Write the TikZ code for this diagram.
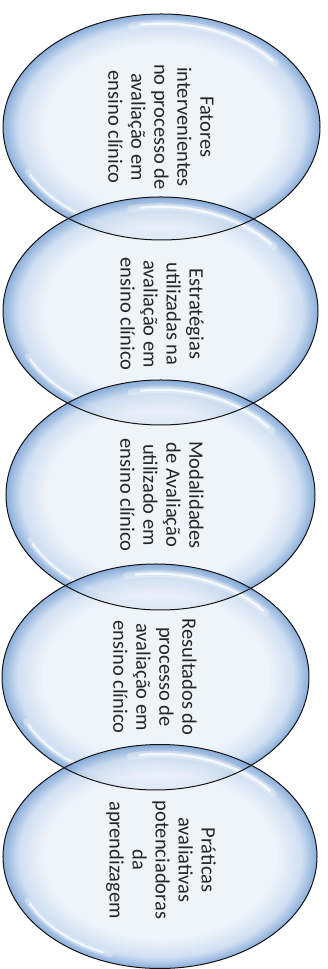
\documentclass[tikz,border=0pt]{standalone}
\usepackage{fontspec}
\setmainfont{Carlito}
\usetikzlibrary{shapes.geometric}
\definecolor{bcenter}{RGB}{236,241,249}
\definecolor{bmid}{RGB}{200,218,240}
\definecolor{bedge}{RGB}{118,160,211}
\definecolor{txt}{RGB}{38,38,38}
\pgfdeclareradialshading{bubble}{\pgfpoint{0bp}{0bp}}{color(0bp)=(bcenter); color(18.5bp)=(bcenter); color(22.5bp)=(bmid); color(25bp)=(bedge); color(50bp)=(bedge)}
\newcommand\glossy[4]{%
  \begin{scope}[shift={(#1,#2)}]
    \draw[gloss, line width=7pt, opacity=0.3] (38:{0.915*#3} and {0.915*#4}) arc[start angle=38, end angle=102, x radius={0.915*#3}, y radius={0.915*#4}];
    \draw[gloss, line width=2.5pt, opacity=0.75] (40:{0.915*#3} and {0.915*#4}) arc[start angle=40, end angle=98, x radius={0.915*#3}, y radius={0.915*#4}];
    \draw[gloss, line width=6pt, opacity=0.3] (205:{0.93*#3} and {0.93*#4}) arc[start angle=205, end angle=250, x radius={0.93*#3}, y radius={0.93*#4}];
    \draw[gloss, line width=2pt, opacity=0.75] (207:{0.93*#3} and {0.93*#4}) arc[start angle=207, end angle=247, x radius={0.93*#3}, y radius={0.93*#4}];
  \end{scope}}
\begin{document}
\begin{tikzpicture}[x=1pt,y=1pt,
  bubble/.style={ellipse, shade, shading=bubble, fill opacity=0.85, inner sep=0pt, outer sep=0pt},
  outline/.style={draw=black!92, line width=1pt},
  lbl/.style={rotate=-90, align=center, font=\fontsize{20.5}{23}\selectfont, text=txt, inner sep=0pt},
  gloss/.style={white, line cap=round}]
\useasboundingbox (0,0) rectangle (328,969);
% bubbles
\node[bubble, minimum width=317pt, minimum height=226pt] (e1) at (161.5,842) {};
\glossy{161.5}{842}{158.5}{113}
\node[bubble, minimum width=315pt, minimum height=228pt] (e2) at (160.5,658) {};
\glossy{160.5}{658}{157.5}{114}
\node[bubble, minimum width=309pt, minimum height=230pt] (e3) at (160.5,474) {};
\glossy{160.5}{474}{154.5}{115}
\node[bubble, minimum width=307pt, minimum height=226pt] (e4) at (155.5,292) {};
\glossy{155.5}{292}{153.5}{113}
\node[bubble, minimum width=314pt, minimum height=224pt] (e5) at (160,112.5) {};
\glossy{160}{112.5}{157}{112}
% outlines
\draw[outline] (e1.center) ellipse[x radius=158.5, y radius=113];
\draw[outline] (e2.center) ellipse[x radius=157.5, y radius=114];
\draw[outline] (e3.center) ellipse[x radius=154.5, y radius=115];
\draw[outline] (e4.center) ellipse[x radius=153.5, y radius=113];
\draw[outline] (e5.center) ellipse[x radius=157, y radius=112];
% texts
\node[lbl] (t1) at (161,842) {Fatores\\intervenientes\\no processo de\\avaliação em\\ensino clínico};
\node[lbl] (t2) at (162,655) {Estratégias\\utilizadas na\\avaliação em\\ensino clínico};
\node[lbl] (t3) at (162,474) {Modalidades\\de Avaliação\\utilizado em\\ensino clínico};
\node[lbl] (t4) at (155,292) {Resultados do\\processo de\\avaliação em\\ensino clínico};
\node[lbl] (t5) at (161,109) {Práticas\\avaliativas\\potenciadoras\\da\\aprendizagem};
\end{tikzpicture}
\end{document}
